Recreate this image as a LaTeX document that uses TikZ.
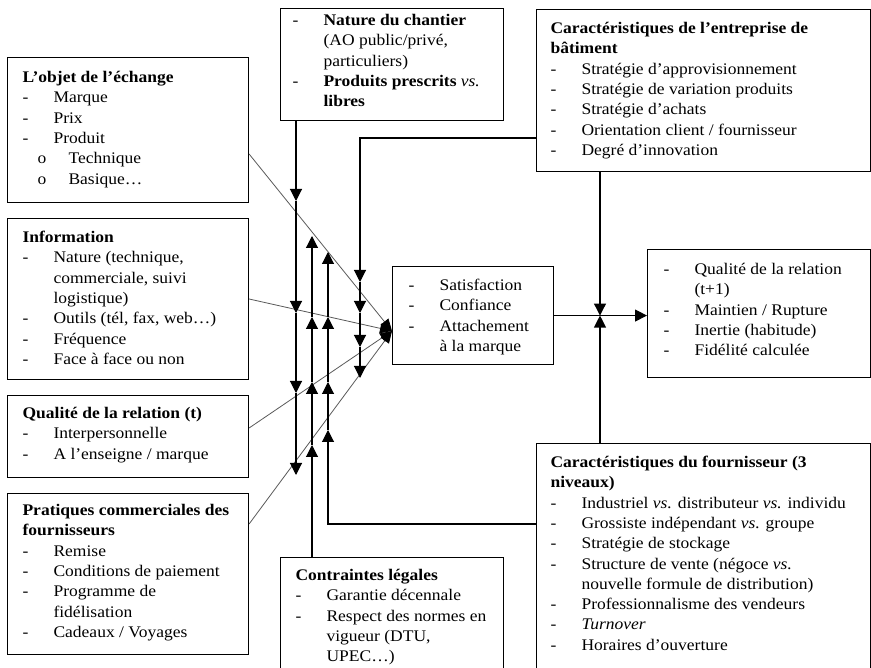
\documentclass[tikz,border=0pt]{standalone}
\usepackage{fontspec}
\setmainfont{Liberation Serif}[FakeStretch=1.08]
\usetikzlibrary{arrows.meta,calc}
\newcommand{\bxc}[4]{\parbox[t][#2][t]{#1}{\parindent0pt\parskip0pt\rule{0pt}{#3}#4}}
\newcommand{\Ttl}[1]{\mbox{\bfseries #1}\par}
\newcommand{\Dsh}[1]{\mbox{\makebox[31pt][l]{-}#1}\par}
\newcommand{\Cnt}[1]{\mbox{\hspace*{31pt}#1}\par}
\newcommand{\Sbl}[1]{\mbox{\hspace*{15pt}\makebox[31pt][l]{o}#1}\par}
\begin{document}
\begin{tikzpicture}[x=1pt,y=-1pt,
  bx/.style={draw, line width=1.1pt, inner xsep=15pt, inner ysep=0pt, anchor=north west,
    font=\fontsize{16.2}{20.3}\selectfont},
  conn/.style={line width=1.1pt, black},
  arr/.style={conn, -{Triangle[length=12pt,width=12pt]}},
  diag/.style={line width=0.8pt, black!65, -{Triangle[length=12pt,width=10pt,color=black]}}]
\useasboundingbox (0,0) rectangle (871,668);

% boxes
\node[bx] (obj) at (7,57) {\bxc{211pt}{145pt}{25pt}{%
  \Ttl{L’objet de l’échange}
  \Dsh{Marque}
  \Dsh{Prix}
  \Dsh{Produit}
  \Sbl{Technique}
  \Sbl{Basique…}}};

\node[bx, inner xsep=12pt] (nat) at (280,8) {\bxc{199pt}{112pt}{17pt}{%
  \Dsh{\bfseries Nature du chantier}
  \Cnt{(AO public/privé,}
  \Cnt{particuliers)}
  \Dsh{\bfseries Produits prescrits \normalfont\itshape vs.}
  \Cnt{\bfseries libres}}};

\node[bx, inner xsep=14pt] (ent) at (536,9) {\bxc{306pt}{162pt}{24pt}{%
  \Ttl{Caractéristiques de l’entreprise de}
  \Ttl{bâtiment}
  \Dsh{Stratégie d’approvisionnement}
  \Dsh{Stratégie de variation produits}
  \Dsh{Stratégie d’achats}
  \Dsh{Orientation client / fournisseur}
  \Dsh{Degré d’innovation}}};

\node[bx] (info) at (7,218) {\bxc{211pt}{161pt}{24pt}{%
  \Ttl{Information}
  \Dsh{Nature (technique,}
  \Cnt{commerciale, suivi}
  \Cnt{logistique)}
  \Dsh{Outils (tél, fax, web…)}
  \Dsh{Fréquence}
  \Dsh{Face à face ou non}}};

\node[bx] (qual) at (7,395) {\bxc{211pt}{82pt}{23pt}{%
  \Ttl{Qualité de la relation (t)}
  \Dsh{Interpersonnelle}
  \Dsh{A l’enseigne / marque}}};

\node[bx] (prat) at (7,493) {\bxc{211pt}{161pt}{22pt}{%
  \Ttl{Pratiques commerciales des}
  \Ttl{fournisseurs}
  \Dsh{Remise}
  \Dsh{Conditions de paiement}
  \Dsh{Programme de}
  \Cnt{fidélisation}
  \Dsh{Cadeaux / Voyages}}};

\node[bx] (contr) at (280,557) {\bxc{193pt}{115pt}{23pt}{%
  \Ttl{Contraintes légales}
  \Dsh{Garantie décennale}
  \Dsh{Respect des normes en}
  \Cnt{vigueur (DTU,}
  \Cnt{UPEC…)}}};

\node[bx, inner xsep=14pt] (four) at (536,443) {\bxc{306pt}{230pt}{24pt}{%
  \Ttl{Caractéristiques du fournisseur (3}
  \Ttl{niveaux)}
  \Dsh{Industriel \textit{vs.} distributeur \textit{vs.} individu}
  \Dsh{Grossiste indépendant \textit{vs.} groupe}
  \Dsh{Stratégie de stockage}
  \Dsh{Structure de vente (négoce \textit{vs.}}
  \Cnt{nouvelle formule de distribution)}
  \Dsh{Professionnalisme des vendeurs}
  \Dsh{\textit{Turnover}}
  \Dsh{Horaires d’ouverture}}};

\node[bx, inner xsep=16pt] (sat) at (392,266) {\bxc{129pt}{98pt}{24pt}{%
  \Dsh{Satisfaction}
  \Dsh{Confiance}
  \Dsh{Attachement}
  \Cnt{à la marque}}};

\node[bx, inner xsep=16pt] (res) at (647,249) {\bxc{191pt}{128pt}{25pt}{%
  \Dsh{Qualité de la relation}
  \Cnt{(t+1)}
  \Dsh{Maintien / Rupture}
  \Dsh{Inertie (habitude)}
  \Dsh{Fidélité calculée}}};

% waypoints
\coordinate (conv) at ([yshift=-65pt]sat.north west);
\coordinate (a1) at (296,201);
\coordinate (a2) at (296,313);
\coordinate (a3) at (296,393);
\coordinate (a4) at (296,475);
\coordinate (b1) at (312,445);
\coordinate (b2) at (312,382);
\coordinate (b3) at (312,317);
\coordinate (b4) at (312,236);
\coordinate (c1) at (328,430);
\coordinate (c2) at (328,382);
\coordinate (c3) at (328,317);
\coordinate (c4) at (328,252);
\coordinate (d1) at (360,282);
\coordinate (d2) at (360,313);
\coordinate (d3) at (360,347);
\coordinate (d4) at (360,378);
\coordinate (mid) at ([xshift=64pt]ent.south west |- sat.east);

% diagonals into the satisfaction box
\draw[diag] ([yshift=-97pt]obj.north east) -- (conv);
\draw[diag] ([yshift=-81pt]info.north east) -- (conv);
\draw[diag] ([yshift=-33pt]qual.north east) -- (conv);
\draw[diag] ([yshift=-31pt]prat.north east) -- (conv);

% nature du chantier
\draw[arr] ([xshift=16pt]nat.south west) -- (a1);
\draw[arr] (a1) -- (a2);
\draw[arr] (a2) -- (a3);
\draw[arr] (a3) -- (a4);

% contraintes legales
\draw[arr] ([xshift=32pt]contr.north west) -- (b1);
\draw[arr] (b1) -- (b2);
\draw[arr] (b2) -- (b3);
\draw[arr] (b3) -- (b4);

% fournisseur
\draw[arr] ([yshift=-81pt]four.north west) -| (c1);
\draw[arr] (c1) -- (c2);
\draw[arr] (c2) -- (c3);
\draw[arr] (c3) -- (c4);

% entreprise
\draw[arr] ([yshift=-129pt]ent.north west) -| (d1);
\draw[arr] (d1) -- (d2);
\draw[arr] (d2) -- (d3);
\draw[arr] (d3) -- (d4);

% right part
\draw[arr] (sat.east) -- (sat.east -| res.west);
\draw[arr] ([xshift=64pt]ent.south west) -- (mid);
\draw[arr] ([xshift=64pt]four.north west) -- (mid);
\end{tikzpicture}
\end{document}
